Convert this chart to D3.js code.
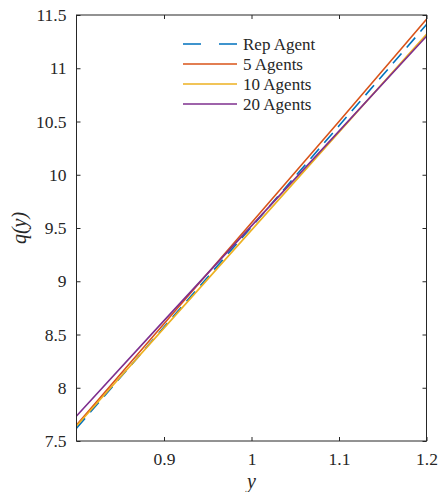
<!DOCTYPE html>
<html>
<head>
<meta charset="utf-8">
<script src="https://cdn.jsdelivr.net/npm/d3@7"></script>
<style>
  html, body { margin: 0; padding: 0; background: #fff; }
  svg { display: block; }
</style>
</head>
<body>
<svg id="chart" width="439" height="492"></svg>
<script>
// Grid of income levels y and the price function q(y) for each economy
const yGrid = [0.8, 0.9, 1.0, 1.1, 1.2];
const repAgent = [7.62, 8.57, 9.51, 10.46, 11.41];
const agents5 = [7.65, 8.60, 9.55, 10.50, 11.46];
const agents10 = [7.64, 8.56, 9.48, 10.40, 11.32];
const agents20 = [7.735, 8.63, 9.52, 10.41, 11.30];

const seriesNames = ["Rep Agent", "5 Agents", "10 Agents", "20 Agents"];
const seriesColors = ["#0072BD", "#D95319", "#EDB120", "#7E2F8E"];
const seriesDash = ["13,8", null, null, null];
const seriesValues = [repAgent, agents5, agents10, agents20];

const xTicks = [0.9, 1.0, 1.1, 1.2];
const yTicks = [7.5, 8, 8.5, 9, 9.5, 10, 10.5, 11, 11.5];

const FONT = "'Liberation Serif', 'Times New Roman', serif";
const svg = d3.select("#chart");
const plotLeft = 76.5, plotRight = 426.5, plotTop = 15, plotBottom = 441;

const x = d3.scaleLinear().domain([0.8, 1.2]).range([plotLeft, plotRight]);
const y = d3.scaleLinear().domain([7.5, 11.5]).range([plotBottom, plotTop]);

const axisColor = "#262626";
const tickLen = 4;

// Tick labels and inward ticks on all four sides (boxed axes)
const gx = svg.append("g").attr("transform", `translate(0,${plotBottom})`)
  .call(d3.axisBottom(x).tickValues(xTicks).tickFormat(d3.format("~g"))
    .tickSize(-tickLen).tickPadding(12));
gx.attr("font-family", FONT);
gx.select(".domain").remove();
gx.selectAll("line").attr("stroke", axisColor);
gx.selectAll("text").attr("font-size", 17.5).attr("dy", "0.71em").attr("fill", axisColor);

const gy = svg.append("g").attr("transform", `translate(${plotLeft},0)`)
  .call(d3.axisLeft(y).tickValues(yTicks).tickFormat(d3.format("~g"))
    .tickSize(-tickLen).tickPadding(10));
gy.attr("font-family", FONT);
gy.select(".domain").remove();
gy.selectAll("line").attr("stroke", axisColor);
gy.selectAll("text").attr("font-size", 17.5).attr("fill", axisColor);

const gxTop = svg.append("g").attr("transform", `translate(0,${plotTop})`)
  .call(d3.axisTop(x).tickValues(xTicks).tickFormat("").tickSize(-tickLen));
gxTop.select(".domain").remove();
gxTop.selectAll("line").attr("stroke", axisColor);

const gyRight = svg.append("g").attr("transform", `translate(${plotRight},0)`)
  .call(d3.axisRight(y).tickValues(yTicks).tickFormat("").tickSize(-tickLen));
gyRight.select(".domain").remove();
gyRight.selectAll("line").attr("stroke", axisColor);

// Curves
const line = d3.line().x((d, i) => x(yGrid[i])).y(d => y(d));
seriesValues.forEach((vals, k) => {
  svg.append("path")
    .datum(vals)
    .attr("d", line)
    .attr("fill", "none")
    .attr("stroke", seriesColors[k])
    .attr("stroke-width", 1.6)
    .attr("stroke-dasharray", seriesDash[k]);
});

// Box
svg.append("rect")
  .attr("x", plotLeft).attr("y", plotTop)
  .attr("width", plotRight - plotLeft).attr("height", plotBottom - plotTop)
  .attr("fill", "none").attr("stroke", axisColor).attr("stroke-width", 1);

// Legend
const legend = svg.append("g").attr("transform", "translate(183,44)");
seriesNames.forEach((name, k) => {
  const row = legend.append("g").attr("transform", `translate(0,${k * 20})`);
  row.append("line")
    .attr("x1", 0).attr("x2", 54).attr("y1", 0).attr("y2", 0)
    .attr("stroke", seriesColors[k]).attr("stroke-width", 1.6)
    .attr("stroke-dasharray", k === 0 ? "18,18" : null);
  row.append("text")
    .attr("x", 60).attr("y", 0).attr("dy", "0.33em")
    .attr("font-family", FONT).attr("fill", axisColor)
    .attr("font-size", 17).text(name);
});

// Axis titles
svg.append("text")
  .attr("x", (plotLeft + plotRight) / 2).attr("y", 488)
  .attr("text-anchor", "middle").attr("font-size", 20)
  .attr("font-family", FONT).attr("fill", axisColor)
  .attr("font-style", "italic").text("y");

svg.append("text")
  .attr("transform", `translate(26,${(plotTop + plotBottom) / 2}) rotate(-90)`)
  .attr("text-anchor", "middle").attr("font-size", 20)
  .attr("font-family", FONT).attr("fill", axisColor)
  .attr("font-style", "italic").text("q(y)");
</script>
</body>
</html>
